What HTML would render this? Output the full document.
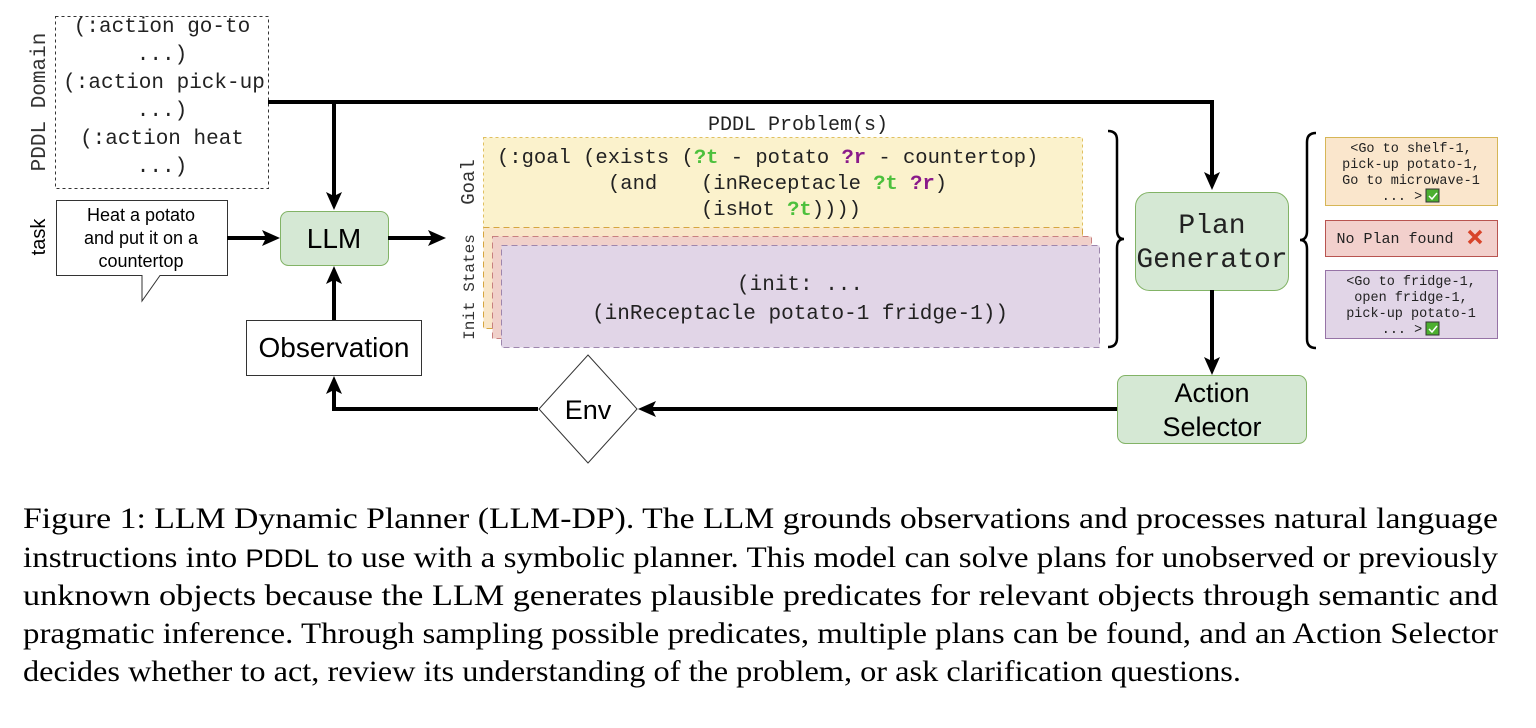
<!DOCTYPE html>
<html><head><meta charset="utf-8"><style>
html,body{margin:0;padding:0;background:#fff;}
svg{display:block;}
.m{font-family:"Liberation Mono",monospace;}
.s{font-family:"Liberation Sans",sans-serif;}
.r{font-family:"Liberation Serif",serif;font-size:30px;fill:#000;}
</style></head><body>
<svg width="1536" height="728" viewBox="0 0 1536 728" xmlns="http://www.w3.org/2000/svg">
<!-- Domain -->
<rect x="55.5" y="16.5" width="213" height="172" fill="none" stroke="#333" stroke-dasharray="3,3"/>
<g class="m" font-size="21" text-anchor="middle" fill="#222">
<text x="162" y="32">(:action go-to</text>
<text x="162" y="60">...)</text>
<text x="164" y="88">(:action pick-up</text>
<text x="162" y="116">...)</text>
<text x="162" y="144">(:action heat</text>
<text x="162" y="172">...)</text>
</g>
<text class="m" font-size="21" fill="#333" text-anchor="middle" transform="translate(45,102) rotate(-90)">PDDL Domain</text>
<text class="s" font-size="20" fill="#000" text-anchor="middle" transform="translate(45,237) rotate(-90)">task</text>
<!-- top line -->
<path d="M268,102 H1212 V184" fill="none" stroke="#000" stroke-width="4"/>
<path d="M1204,172 L1212,190 L1220,172 L1212,176 z" fill="#000"/>
<path d="M334,102 V202" fill="none" stroke="#000" stroke-width="4"/>
<path d="M326,192 L334,210 L342,192 L334,196 z" fill="#000"/>
<!-- bubble -->
<path d="M56.5,200.5 H227.5 V275.5 H160 L142,301 V275.5 H56.5 z" fill="#fff" stroke="#333"/>
<g class="s" font-size="18" text-anchor="middle" fill="#000">
<text x="141" y="221">Heat a potato</text>
<text x="141" y="244">and put it on a</text>
<text x="141" y="267">countertop</text>
</g>
<path d="M227,238 H272" stroke="#000" stroke-width="4"/>
<path d="M262,230 L280,238 L262,246 L266,238 z" fill="#000"/>
<!-- LLM -->
<rect x="280.5" y="211.5" width="108" height="54" rx="8" fill="#d5e8d4" stroke="#82b366"/>
<text class="s" x="334" y="248" font-size="28" text-anchor="middle">LLM</text>
<path d="M388,238 H438" stroke="#000" stroke-width="4"/>
<path d="M428,230 L446,238 L428,246 L432,238 z" fill="#000"/>
<!-- observation -->
<path d="M334,320 V274" stroke="#000" stroke-width="4"/>
<path d="M326,284 L334,266 L342,284 L334,280 z" fill="#000"/>
<rect x="246.5" y="320.5" width="175" height="55" fill="#fff" stroke="#333"/>
<text class="s" x="334" y="357" font-size="28" text-anchor="middle">Observation</text>
<path d="M538,409 H334 V384" fill="none" stroke="#000" stroke-width="4"/>
<path d="M326,394 L334,376 L342,394 L334,390 z" fill="#000"/>
<!-- env -->
<path d="M588,355 L637,409 L588,463 L539,409 z" fill="#fff" stroke="#333"/>
<text class="s" x="588" y="419" font-size="27" text-anchor="middle">Env</text>
<path d="M1117,409 H646" stroke="#000" stroke-width="4"/>
<path d="M656,401 L638,409 L656,417 L652,409 z" fill="#000"/>
<!-- PDDL problem -->
<text class="m" x="798" y="130" font-size="20" text-anchor="middle" fill="#222">PDDL Problem(s)</text>
<rect x="483.5" y="137.5" width="599" height="98" fill="#fbf2cc" stroke="#e0c060" stroke-dasharray="3,3"/>
<rect x="483.5" y="227.5" width="599" height="101" fill="#f9e6c8" stroke="#d6a640" stroke-dasharray="6,4"/>
<rect x="492.5" y="236.5" width="599" height="102" fill="#f0d0ca" stroke="#c88080" stroke-dasharray="6,4"/>
<rect x="501.5" y="245.5" width="598" height="102" fill="#e1d5e7" stroke="#9d86ad" stroke-dasharray="6,4"/>
<g class="m" font-size="20.5" fill="#222">
<text x="497" y="163">(:goal (exists (<tspan fill="#4cc03c" font-weight="bold">?t</tspan> - potato <tspan fill="#8a1a8a" font-weight="bold">?r</tspan> - countertop)</text>
<text x="608" y="189">(and</text>
<text x="701" y="189">(inReceptacle <tspan fill="#4cc03c" font-weight="bold">?t</tspan> <tspan fill="#8a1a8a" font-weight="bold">?r</tspan>)</text>
<text x="701" y="215">(isHot <tspan fill="#4cc03c" font-weight="bold">?t</tspan>))))</text>
</g>
<g class="m" font-size="21" fill="#222" text-anchor="middle">
<text x="800" y="290">(init: ...</text>
<text x="800" y="319">(inReceptacle potato-1 fridge-1))</text>
</g>
<text class="m" font-size="19" fill="#333" text-anchor="middle" transform="translate(474,182) rotate(-90)">Goal</text>
<text class="m" font-size="16" fill="#333" text-anchor="middle" transform="translate(474,287) rotate(-90)">Init States</text>
<!-- braces -->
<path d="M1108,131 Q1117,131 1117,140 V230 Q1117,239 1124,239 Q1117,239 1117,248 V338 Q1117,347 1108,347" fill="none" stroke="#000" stroke-width="2.5"/>
<path d="M1316,133 Q1307,133 1307,142 V231 Q1307,240 1300,240 Q1307,240 1307,249 V339 Q1307,348 1316,348" fill="none" stroke="#000" stroke-width="2.5"/>
<!-- plan generator -->
<rect x="1135.5" y="192.5" width="153" height="98" rx="14" fill="#d5e8d4" stroke="#82b366"/>
<g class="m" font-size="28" text-anchor="middle" fill="#222">
<text x="1212" y="233">Plan</text>
<text x="1212" y="267">Generator</text>
</g>
<path d="M1212,290 V367" stroke="#000" stroke-width="4"/>
<path d="M1204,357 L1212,375 L1220,357 L1212,361 z" fill="#000"/>
<rect x="1117.5" y="375.5" width="189" height="68" rx="8" fill="#d5e8d4" stroke="#82b366"/>
<g class="s" font-size="27" text-anchor="middle" fill="#000">
<text x="1212" y="402">Action</text>
<text x="1212" y="436">Selector</text>
</g>
<!-- plans -->
<rect x="1325.5" y="137.5" width="172" height="68" fill="#fae6cc" stroke="#d6b656"/>
<rect x="1325.5" y="220.5" width="172" height="36" fill="#f2d0cc" stroke="#b85450"/>
<rect x="1325.5" y="270.5" width="172" height="68" fill="#e1d5e7" stroke="#9673a6"/>
<g class="m" font-size="13.5" text-anchor="middle" fill="#222">
<text x="1411" y="152">&lt;Go to shelf-1,</text>
<text x="1411" y="168">pick-up potato-1,</text>
<text x="1411" y="184">Go to microwave-1</text>
<text x="1402" y="200">... &gt;</text>
<text x="1395" y="243" font-size="15">No Plan found</text>
<text x="1411" y="285">&lt;Go to fridge-1,</text>
<text x="1411" y="301">open fridge-1,</text>
<text x="1411" y="317">pick-up potato-1</text>
<text x="1402" y="333">... &gt;</text>
</g>
<rect x="1426" y="189" width="13" height="13" fill="#4caf30" stroke="#333"/>
<path d="M1429,196 l3,3 l5,-6" stroke="#fff" stroke-width="1.5" fill="none"/>
<rect x="1426" y="322" width="13" height="13" fill="#4caf30" stroke="#333"/>
<path d="M1429,329 l3,3 l5,-6" stroke="#fff" stroke-width="1.5" fill="none"/>
<path d="M1469,231 l12,12 M1481,231 l-12,12" stroke="#d8442a" stroke-width="3.5"/>
<!-- caption -->
<text class="r" x="23" y="528" textLength="1475" lengthAdjust="spacingAndGlyphs">Figure 1: LLM Dynamic Planner (LLM-DP). The LLM grounds observations and processes natural language</text>
<text class="r" x="23" y="567" textLength="1475" lengthAdjust="spacingAndGlyphs">instructions into <tspan font-family="Liberation Sans, sans-serif" font-size="25">PDDL</tspan> to use with a symbolic planner. This model can solve plans for unobserved or previously</text>
<text class="r" x="23" y="605" textLength="1475" lengthAdjust="spacingAndGlyphs">unknown objects because the LLM generates plausible predicates for relevant objects through semantic and</text>
<text class="r" x="23" y="643" textLength="1475" lengthAdjust="spacingAndGlyphs">pragmatic inference. Through sampling possible predicates, multiple plans can be found, and an Action Selector</text>
<text class="r" x="23" y="681" textLength="1218" lengthAdjust="spacingAndGlyphs">decides whether to act, review its understanding of the problem, or ask clarification questions.</text>
</svg>
</body></html>
